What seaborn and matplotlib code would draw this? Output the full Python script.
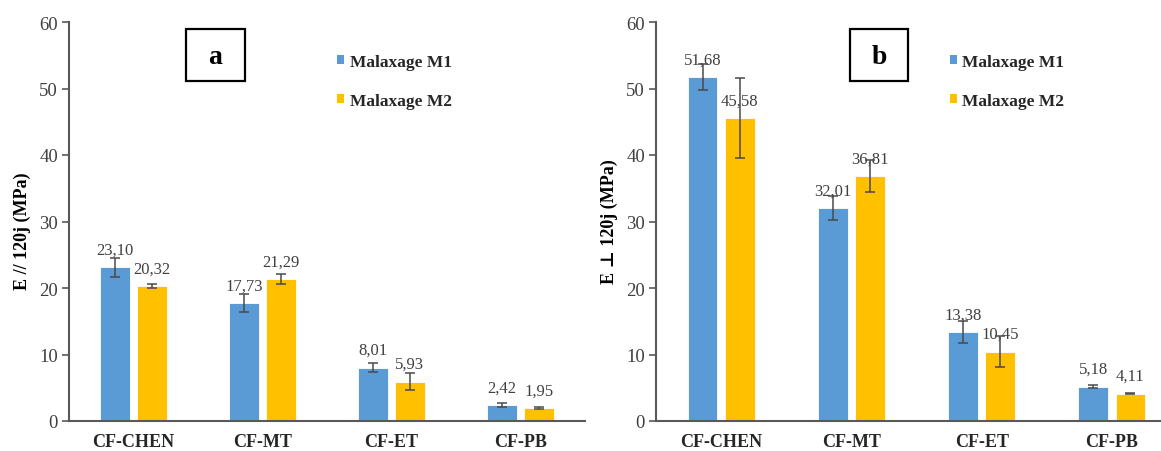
import numpy as np
import pandas as pd
import matplotlib
matplotlib.use("Agg")
import matplotlib.pyplot as plt
from matplotlib.patches import Patch, Rectangle
from matplotlib.container import BarContainer
import seaborn as sns

# ---- data ----
categories = ["CF-CHEN", "CF-MT", "CF-ET", "CF-PB"]
series_names = ["Malaxage M1", "Malaxage M2"]

a_m1 = [23.10, 17.73, 8.01, 2.42]
a_m2 = [20.32, 21.29, 5.93, 1.95]
a_m1_err = [1.4, 1.4, 0.7, 0.3]
a_m2_err = [0.3, 0.75, 1.3, 0.15]

b_m1 = [51.68, 32.01, 13.38, 5.18]
b_m2 = [45.58, 36.81, 10.45, 4.11]
b_m1_err = [1.95, 1.8, 1.6, 0.25]
b_m2_err = [6.0, 2.4, 2.4, 0.1]

ylabel_a = "E // 120j (MPa)"
ylabel_b = "E \u22a5 120j (MPa)"
panel_letters = ["a", "b"]
yticks = [0, 10, 20, 30, 40, 50, 60]

colors = ["#5B9BD5", "#FFC000"]

sns.set_theme(style="white")
plt.rcParams["font.family"] = ["Liberation Serif", "DejaVu Serif"]

W, H = 1161, 452
fig = plt.figure(figsize=(W / 100, H / 100), dpi=100)

def px_axes(x0, x1, y_top, y_bot):
    return [x0 / W, 1 - y_bot / H, (x1 - x0) / W, (y_bot - y_top) / H]

ax_a = fig.add_axes(px_axes(69, 585, 23, 422))
ax_b = fig.add_axes(px_axes(656, 1177, 23, 422))

panels = [
    (ax_a, a_m1, a_m2, a_m1_err, a_m2_err, ylabel_a, (186, 245), (337, 55), (-0.074, 0.478)),
    (ax_b, b_m1, b_m2, b_m1_err, b_m2_err, ylabel_b, (850, 908), (950, 55), (-0.072, 0.502)),
]

axis_gray = "#595959"
text_gray = "#404040"

for idx, (ax, m1, m2, e1, e2, ylab, box_x, leg_pos, ylab_xy) in enumerate(panels):
    df = pd.DataFrame({
        "cat": categories * 2,
        "series": [series_names[0]] * 4 + [series_names[1]] * 4,
        "val": list(m1) + list(m2),
    })
    sns.barplot(data=df, x="cat", y="val", hue="series", order=categories,
                hue_order=series_names, palette=colors, saturation=1,
                width=0.57, gap=0.2, errorbar=None, legend=False, ax=ax,
                edgecolor="white", linewidth=0.6)
    errs = [e1, e2]
    vals = [m1, m2]
    bar_conts = [c for c in ax.containers if isinstance(c, BarContainer)]
    for ci, cont in enumerate(bar_conts):
        xs = [p.get_x() + p.get_width() / 2 for p in cont.patches]
        ax.errorbar(xs, vals[ci], yerr=errs[ci], fmt="none", ecolor="#4a4a4a",
                    elinewidth=1.1, capsize=3.5, capthick=1.1, zorder=5)
        labels = [f"{v:.2f}".replace(".", ",") for v in vals[ci]]
        ax.bar_label(cont, labels=labels, padding=7, fontsize=12,
                     color=text_gray)

    ax.set_ylim(0, 60)
    ax.set_yticks(yticks)
    ax.set_xlim(-0.5, 3.5)
    ax.set_xlabel("")
    ax.set_ylabel(ylab, fontsize=13, fontweight="bold", color="black")
    ax.yaxis.set_label_coords(*ylab_xy)
    ax.tick_params(axis="y", which="both", left=True, length=5, width=1.2,
                   color=axis_gray, labelsize=13.5, labelcolor=text_gray, pad=3)
    ax.tick_params(axis="x", bottom=False, labelsize=13, labelcolor="#262626", pad=2.5)
    for lbl in ax.get_xticklabels():
        lbl.set_fontweight("bold")
    for s in ["top", "right"]:
        ax.spines[s].set_visible(False)
    for s in ["left", "bottom"]:
        ax.spines[s].set_color(axis_gray)
        ax.spines[s].set_linewidth(1.5)

    # panel letter box
    bx0, bx1 = box_x
    fig.patches.append(Rectangle((bx0 / W, 1 - 82 / H), (bx1 - bx0) / W, 52 / H,
                                 transform=fig.transFigure, fill=False,
                                 edgecolor="black", linewidth=1.6))
    fig.text((bx0 + bx1) / 2 / W, 1 - 58 / H, panel_letters[idx], ha="center",
             va="center", fontsize=20, fontweight="bold", color="black")

    handles = [Patch(facecolor=c, edgecolor="none") for c in colors]
    ax.legend(handles, series_names, loc="upper left",
              bbox_to_anchor=(leg_pos[0] / W, 1 - leg_pos[1] / H),
              bbox_transform=fig.transFigure, frameon=False,
              handlelength=0.42, handleheight=0.42, handletextpad=0.3,
              labelspacing=1.3, borderaxespad=0, borderpad=0,
              prop={"weight": "bold", "size": 12.5, "family": ["Liberation Serif", "DejaVu Serif"]})

fig.savefig("out.png", dpi=100)
